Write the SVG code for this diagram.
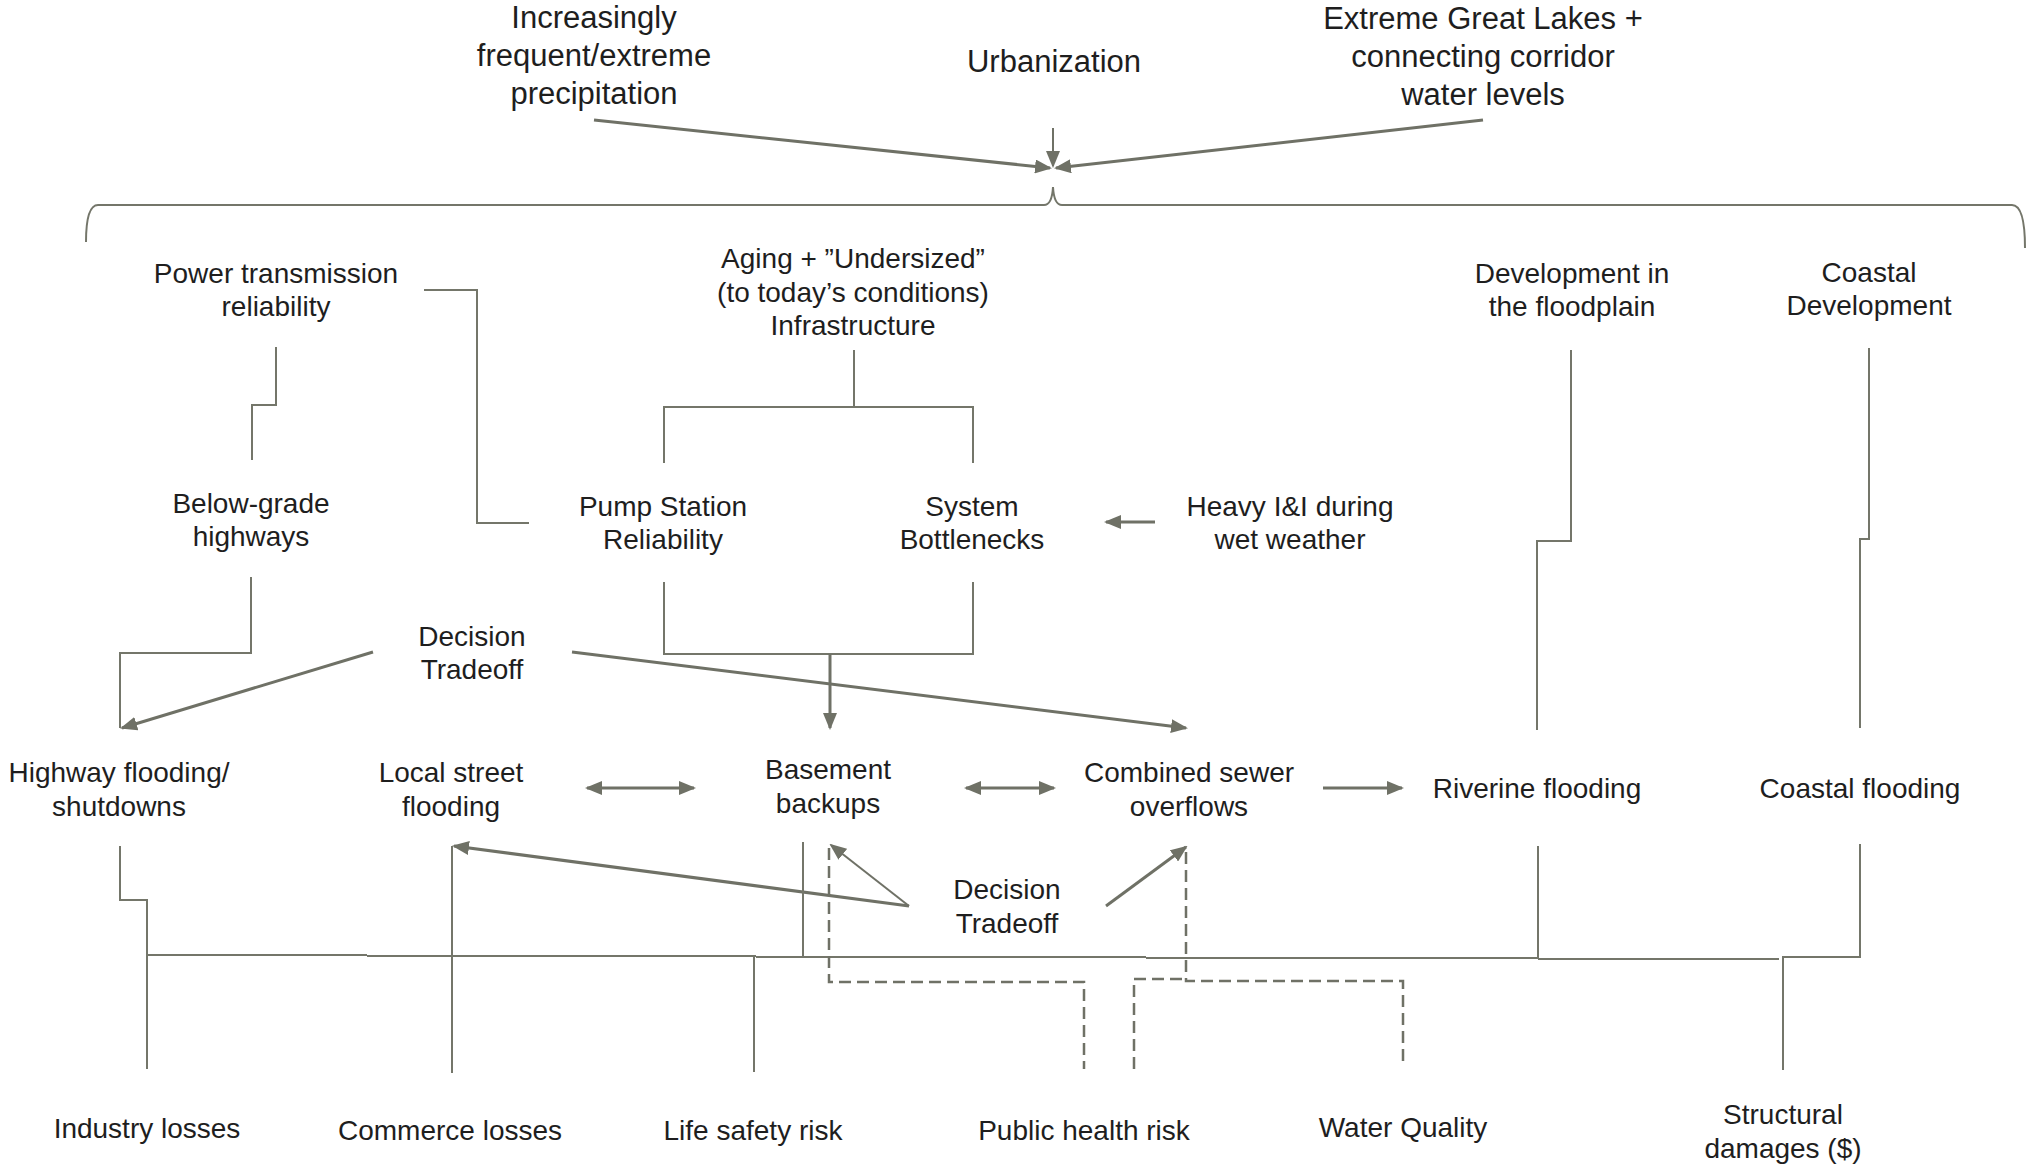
<svg xmlns="http://www.w3.org/2000/svg" width="2037" height="1164" viewBox="0 0 2037 1164">
  <style>
    .t { font-family: "Liberation Sans", Arial, sans-serif; font-size: 28px; fill: #1e1e1e; text-anchor: middle; }
    .tt { font-size: 31px; }
    .ln { fill: none; stroke: #74766a; stroke-width: 2; }
    .ar { fill: none; stroke: #6f7166; stroke-width: 3; marker-end: url(#ah); }
    .ar2 { fill: none; stroke: #6f7166; stroke-width: 2; marker-end: url(#ah); }
    .dbl { fill: none; stroke: #6f7166; stroke-width: 3; marker-start: url(#ah); marker-end: url(#ah); }
    .ds { fill: none; stroke: #6f7166; stroke-width: 2.5; stroke-dasharray: 12 6; }
  </style>
  <defs>
    <marker id="ah" viewBox="0 0 17 14" refX="15" refY="7" markerWidth="17" markerHeight="14" markerUnits="userSpaceOnUse" orient="auto-start-reverse">
      <path d="M0,0 L17,7 L0,14 z" fill="#6f7166"/>
    </marker>
  </defs>
  <rect width="2037" height="1164" fill="#ffffff"/>

  <!-- connectors -->
  <g id="connectors">
    <!-- drivers converging on the brace -->
    <path class="ar" d="M594 120 L1050 168"/>
    <path class="ar2" d="M1053 128 L1053 166"/>
    <path class="ar" d="M1483 120 L1056 168"/>
    <path class="ln" d="M86 242 Q86 205 98 205 L1044 205 Q1052 205 1053 187 Q1054 205 1062 205 L2012 205 Q2025 205 2025 248"/>

    <!-- middle tier -->
    <path class="ln" d="M276 347 V405 H252 V460"/>
    <path class="ln" d="M424 290 H477 V523 H529"/>
    <path class="ln" d="M854 350 V407 M664 463 V407 H973 V463"/>
    <path class="ar" d="M1155 522 H1106"/>
    <path class="ln" d="M664 582 V654 H973 V582"/>
    <path class="ar" d="M830 654 V728"/>
    <path class="ln" d="M251 577 V653 H120 V728"/>
    <path class="ar" d="M373 652 L122 728"/>
    <path class="ar" d="M572 652 L1186 728"/>
    <path class="ln" d="M1571 350 V541 H1537 V730"/>
    <path class="ln" d="M1869 348 V539 H1860 V728"/>

    <!-- flooding row -->
    <path class="dbl" d="M587 788 H694"/>
    <path class="dbl" d="M966 788 H1054"/>
    <path class="ar" d="M1323 788 H1402"/>

    <!-- lower decision tradeoff -->
    <path class="ar" d="M909 906 L454 846"/>
    <path class="ar2" d="M909 906 L831 845"/>
    <path class="ar" d="M1106 906 L1186 847"/>

    <!-- consequences -->
    <path class="ln" d="M120 846 V900 H147 V1069"/>
    <path class="ln" d="M452 846 V1073"/>
    <path class="ln" d="M803 842 V956"/>
    <path class="ln" d="M754 957 V1072"/>
    <path class="ln" d="M147 955 H367 M367 956 H756 M756 957 H1146 M1146 958 H1538 M1538 959 H1779"/>
    <path class="ln" d="M1538 846 V959"/>
    <path class="ln" d="M1860 844 V957 H1783 V1070"/>
    <path class="ds" d="M829 848 V982 H1084 V1069"/>
    <path class="ds" d="M1186 852 V981 H1403 V1063"/>
    <path class="ds" d="M1134 1069 V979 H1186"/>
  </g>

  <!-- drivers -->
  <g id="precipitation">
    <text class="t tt" x="594" y="28">Increasingly</text>
    <text class="t tt" x="594" y="66">frequent/extreme</text>
    <text class="t tt" x="594" y="104">precipitation</text>
  </g>
  <g id="urbanization">
    <text class="t tt" x="1054" y="72">Urbanization</text>
  </g>
  <g id="great-lakes">
    <text class="t tt" x="1483" y="29">Extreme Great Lakes +</text>
    <text class="t tt" x="1483" y="67">connecting corridor</text>
    <text class="t tt" x="1483" y="105">water levels</text>
  </g>

  <!-- contributing conditions -->
  <g id="power">
    <text class="t" x="276" y="283">Power transmission</text>
    <text class="t" x="276" y="316">reliability</text>
  </g>
  <g id="aging">
    <text class="t" x="853" y="268">Aging + ”Undersized”</text>
    <text class="t" x="853" y="302">(to today’s conditions)</text>
    <text class="t" x="853" y="335">Infrastructure</text>
  </g>
  <g id="floodplain">
    <text class="t" x="1572" y="283">Development in</text>
    <text class="t" x="1572" y="316">the floodplain</text>
  </g>
  <g id="coastal-dev">
    <text class="t" x="1869" y="282">Coastal</text>
    <text class="t" x="1869" y="315">Development</text>
  </g>
  <g id="below-grade">
    <text class="t" x="251" y="513">Below-grade</text>
    <text class="t" x="251" y="546">highways</text>
  </g>
  <g id="pump-station">
    <text class="t" x="663" y="516">Pump Station</text>
    <text class="t" x="663" y="549">Reliability</text>
  </g>
  <g id="bottlenecks">
    <text class="t" x="972" y="516">System</text>
    <text class="t" x="972" y="549">Bottlenecks</text>
  </g>
  <g id="heavy-ii">
    <text class="t" x="1290" y="516">Heavy I&amp;I during</text>
    <text class="t" x="1290" y="549">wet weather</text>
  </g>
  <g id="tradeoff-upper">
    <text class="t" x="472" y="646">Decision</text>
    <text class="t" x="472" y="679">Tradeoff</text>
  </g>

  <!-- flooding outcomes -->
  <g id="highway-flooding">
    <text class="t" x="119" y="782">Highway flooding/</text>
    <text class="t" x="119" y="816">shutdowns</text>
  </g>
  <g id="street-flooding">
    <text class="t" x="451" y="782">Local street</text>
    <text class="t" x="451" y="816">flooding</text>
  </g>
  <g id="basement">
    <text class="t" x="828" y="779">Basement</text>
    <text class="t" x="828" y="813">backups</text>
  </g>
  <g id="cso">
    <text class="t" x="1189" y="782">Combined sewer</text>
    <text class="t" x="1189" y="816">overflows</text>
  </g>
  <g id="riverine">
    <text class="t" x="1537" y="798">Riverine flooding</text>
  </g>
  <g id="coastal-flooding">
    <text class="t" x="1860" y="798">Coastal flooding</text>
  </g>
  <g id="tradeoff-lower">
    <text class="t" x="1007" y="899">Decision</text>
    <text class="t" x="1007" y="933">Tradeoff</text>
  </g>

  <!-- consequences -->
  <g id="industry">
    <text class="t" x="147" y="1138">Industry losses</text>
  </g>
  <g id="commerce">
    <text class="t" x="450" y="1140">Commerce losses</text>
  </g>
  <g id="life-safety">
    <text class="t" x="753" y="1140">Life safety risk</text>
  </g>
  <g id="public-health">
    <text class="t" x="1084" y="1140">Public health risk</text>
  </g>
  <g id="water-quality">
    <text class="t" x="1403" y="1137">Water Quality</text>
  </g>
  <g id="structural">
    <text class="t" x="1783" y="1124">Structural</text>
    <text class="t" x="1783" y="1158">damages ($)</text>
  </g>
</svg>
